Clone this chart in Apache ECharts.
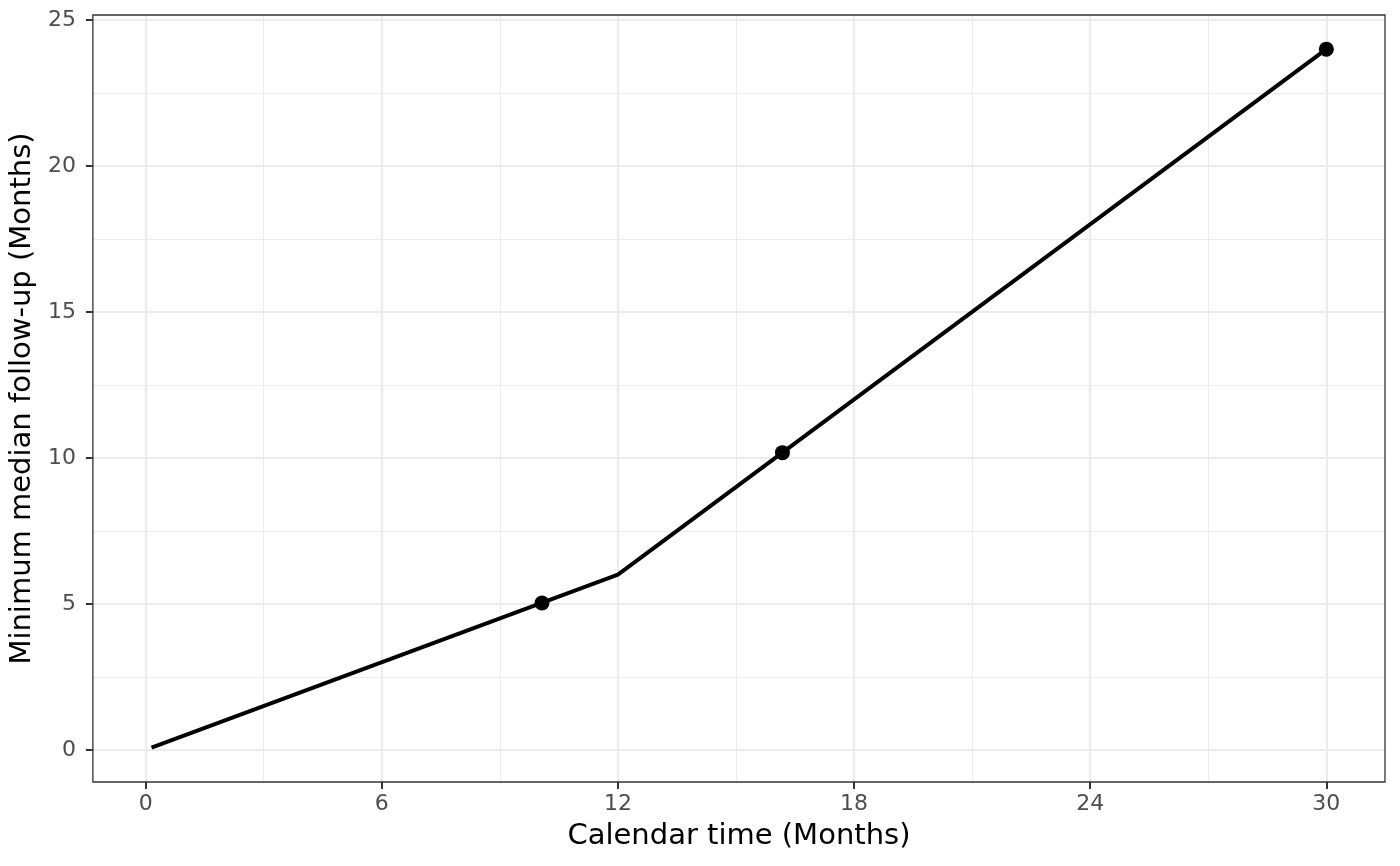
<!DOCTYPE html>
<html>
<head>
<meta charset="utf-8">
<script src="https://cdn.jsdelivr.net/npm/echarts@6/dist/echarts.min.js"></script>
<style>
  html, body { margin: 0; padding: 0; background: #fff; }
  #main { width: 1400px; height: 866px; }
</style>
</head>
<body>
<div id="main"></div>
<script>
// line path (calendar time vs minimum median follow-up)
var lineX = [0.15, 12, 30];
var lineY = [0.08, 6, 24];
// highlighted points
var pointX = [10.07, 16.18, 30];
var pointY = [5.03, 10.18, 24];
// ticks and grid
var xTicks = [0, 6, 12, 18, 24, 30];
var xMinor = [3, 9, 15, 21, 27];
var yTicks = [0, 5, 10, 15, 20, 25];
var yMinor = [2.5, 7.5, 12.5, 17.5, 22.5];

var font = 'DejaVu Sans';
var myChart = echarts.init(document.getElementById('main'));

var gridLines = [];
for (var v of xMinor) gridLines.push({ xAxis: v, lineStyle: { color: '#ebebeb', width: 1.1, type: 'solid' } });
for (var v of yMinor) gridLines.push({ yAxis: v, lineStyle: { color: '#ebebeb', width: 1.1, type: 'solid' } });
for (var v of xTicks) gridLines.push({ xAxis: v, lineStyle: { color: '#ebebeb', width: 2.1, type: 'solid' } });
for (var v of yTicks) gridLines.push({ yAxis: v, lineStyle: { color: '#ebebeb', width: 2.1, type: 'solid' } });

var option = {
    animation: false,
    backgroundColor: '#fff',
    grid: {
        left: 92, right: 15, top: 15, bottom: 84,
        show: true, borderColor: '#333333', borderWidth: 1.3, backgroundColor: 'transparent', z: 10
    },
    xAxis: {
        type: 'value',
        min: -1.34, max: 31.49,
        name: 'Calendar time (Months)',
        nameLocation: 'middle',
        nameGap: 40,
        nameTextStyle: { fontFamily: font, fontSize: 29, color: '#000' },
        axisLine: { show: false, onZero: false },
        axisTick: { show: true, customValues: xTicks, length: 7, lineStyle: { color: '#333333', width: 2 } },
        axisLabel: { customValues: xTicks, margin: 11, fontFamily: font, fontSize: 22, color: '#4d4d4d' },
        splitLine: { show: false }
    },
    yAxis: {
        type: 'value',
        min: -1.1, max: 25.17,
        name: 'Minimum median follow-up (Months)',
        nameLocation: 'middle',
        nameGap: 54,
        nameTextStyle: { fontFamily: font, fontSize: 29, color: '#000' },
        axisLine: { show: false, onZero: false },
        axisTick: { show: true, customValues: yTicks, length: 7, lineStyle: { color: '#333333', width: 2 } },
        axisLabel: { customValues: yTicks, margin: 17, fontFamily: font, fontSize: 22, color: '#4d4d4d' },
        splitLine: { show: false }
    },
    series: [
        {
            type: 'line',
            data: [],
            z: 0,
            silent: true,
            markLine: {
                z: 0,
                silent: true,
                symbol: 'none',
                label: { show: false },
                data: gridLines
            }
        },
        {
            type: 'line',
            z: 3,
            data: lineX.map(function (x, i) { return [x, lineY[i]]; }),
            showSymbol: false,
            lineStyle: { color: '#000', width: 4 }
        },
        {
            type: 'scatter',
            z: 4,
            data: pointX.map(function (x, i) { return [x, pointY[i]]; }),
            symbolSize: 15,
            itemStyle: { color: '#000', opacity: 1 }
        }
    ]
};
option && myChart.setOption(option);
</script>
</body>
</html>
